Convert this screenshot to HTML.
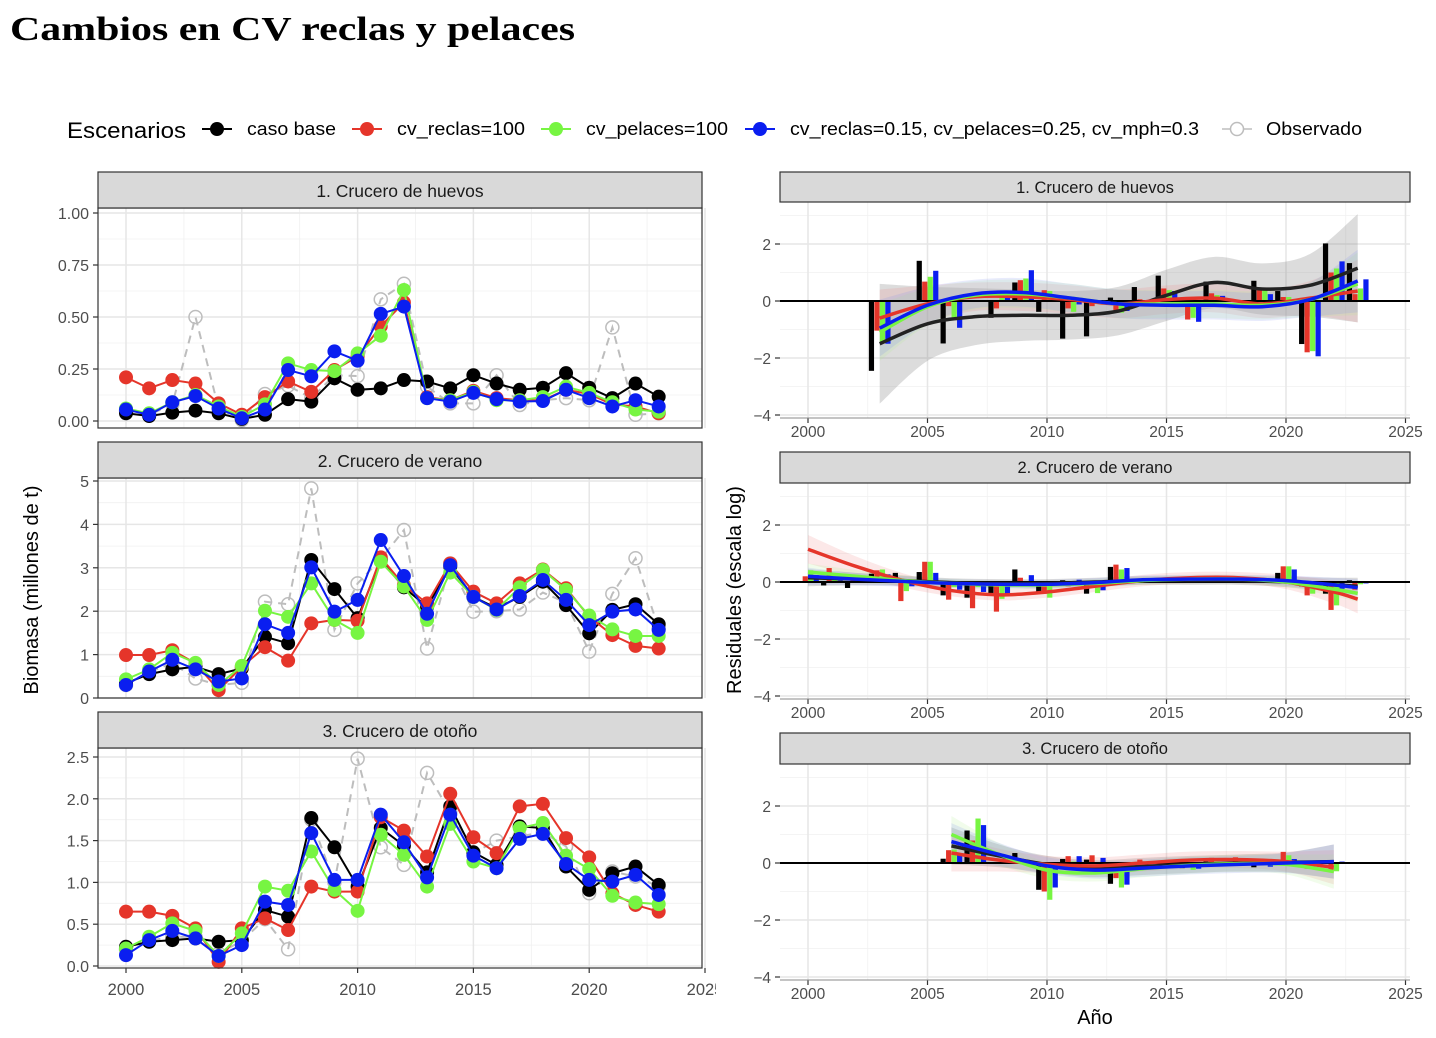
<!DOCTYPE html>
<html><head><meta charset="utf-8"><style>
body{margin:0;background:#fff;}
svg{display:block;font-family:"Liberation Sans",sans-serif;}
</style></head><body>
<svg id="chart" width="1436" height="1038" viewBox="0 0 1436 1038" xmlns="http://www.w3.org/2000/svg">
<rect width="1436" height="1038" fill="#fff"/>
<text x="10" y="40" font-family="Liberation Serif,serif" font-weight="bold" font-size="34" textLength="565" lengthAdjust="spacingAndGlyphs">Cambios en CV reclas y pelaces</text>
<g id="legend"></g>
<g id="left"></g>
<g id="right"></g>
<text transform="translate(38,590) rotate(-90)" text-anchor="middle" font-size="20">Biomasa (millones de t)</text>
<text transform="translate(741,590) rotate(-90)" text-anchor="middle" font-size="20">Residuales (escala log)</text>
<text x="1095" y="1024" text-anchor="middle" font-size="20">Año</text>
</svg>
<script>
const years = [2000,2001,2002,2003,2004,2005,2006,2007,2008,2009,2010,2011,2012,2013,2014,2015,2016,2017,2018,2019,2020,2021,2022,2023];
const seriesNames = ["caso base","cv_reclas=100","cv_pelaces=100","cv_reclas=0.15, cv_pelaces=0.25, cv_mph=0.3"];
const colors = ["#000000","#E5352A","#77F542","#0A1EF0"];
const panelTitles = ["1. Crucero de huevos","2. Crucero de verano","3. Crucero de otoño"];
// Biomass panel 1
const huevosBase = [0.037,0.024,0.04,0.05,0.037,0.01,0.03,0.105,0.093,0.205,0.15,0.157,0.197,0.19,0.157,0.22,0.18,0.15,0.16,0.23,0.16,0.11,0.18,0.117];
const huevosReclas = [0.21,0.157,0.197,0.18,0.085,0.03,0.115,0.19,0.14,0.245,0.31,0.455,0.57,0.115,0.1,0.145,0.11,0.1,0.1,0.15,0.13,0.08,0.07,0.037];
const huevosPelaces = [0.06,0.037,0.09,0.125,0.07,0.02,0.08,0.277,0.245,0.24,0.325,0.41,0.63,0.11,0.1,0.14,0.1,0.1,0.115,0.165,0.135,0.09,0.055,0.045];
const huevosCv = [0.055,0.03,0.09,0.12,0.06,0.013,0.055,0.245,0.215,0.335,0.29,0.515,0.55,0.11,0.093,0.135,0.105,0.093,0.096,0.15,0.11,0.07,0.1,0.07];
const huevosObs = [0.05,0.03,0.08,0.50,0.06,0.005,0.13,0.17,0.11,0.22,0.216,0.585,0.66,0.165,0.085,0.085,0.22,0.077,0.1,0.11,0.1,0.45,0.03,0.037];
// Biomass panel 2
const veranoBase = [0.34,0.55,0.66,0.72,0.55,0.68,1.41,1.26,3.18,2.51,1.84,3.18,2.55,2.1,3.03,2.33,2.07,2.33,2.68,2.14,1.49,2.03,2.16,1.7];
const veranoReclas = [0.99,0.99,1.1,0.8,0.18,0.72,1.17,0.86,1.72,1.8,1.78,3.24,2.6,2.18,3.1,2.45,2.18,2.64,2.96,2.53,1.87,1.45,1.2,1.14];
const veranoPelaces = [0.43,0.66,1.04,0.81,0.3,0.74,2.01,1.87,2.64,1.8,1.5,3.14,2.57,1.8,2.89,2.33,2.03,2.55,2.95,2.49,1.9,1.58,1.43,1.43];
const veranoCv = [0.3,0.61,0.88,0.66,0.38,0.45,1.7,1.5,3.01,1.99,2.26,3.64,2.81,1.94,3.06,2.33,2.04,2.35,2.72,2.26,1.68,1.99,2.04,1.57];
const veranoObs = [0.3,0.6,0.8,0.45,0.3,0.35,2.22,2.16,4.83,1.57,2.64,3.2,3.87,1.14,3.1,1.99,2.0,2.04,2.43,2.2,1.07,2.4,3.22,1.6];
// Biomass panel 3
const otonoBase = [0.23,0.29,0.31,0.33,0.29,0.31,0.67,0.59,1.77,1.42,0.95,1.65,1.44,1.12,1.91,1.36,1.21,1.67,1.65,1.19,0.91,1.11,1.19,0.97];
const otonoReclas = [0.65,0.65,0.6,0.45,0.05,0.45,0.57,0.43,0.95,0.89,0.89,1.78,1.62,1.31,2.06,1.54,1.35,1.91,1.94,1.53,1.3,0.87,0.73,0.65];
const otonoPelaces = [0.21,0.35,0.51,0.42,0.12,0.39,0.95,0.9,1.37,0.91,0.66,1.57,1.33,0.95,1.7,1.25,1.17,1.65,1.71,1.32,1.16,0.84,0.76,0.74];
const otonoCv = [0.13,0.31,0.42,0.33,0.12,0.25,0.77,0.73,1.59,1.03,1.03,1.81,1.48,1.06,1.81,1.32,1.17,1.52,1.58,1.22,1.03,1.01,1.09,0.85];
const otonoObs = [0.2,0.3,0.35,0.35,0.15,0.3,0.56,0.2,1.75,1.0,2.48,1.42,1.21,2.31,1.84,1.35,1.5,1.55,1.6,1.43,0.87,1.13,1.07,0.95];
const leftTicks1 = ["0.00","0.25","0.50","0.75","1.00"];
const leftTicks2 = ["0","1","2","3","4","5"];
const leftTicks3 = ["0.0","0.5","1.0","1.5","2.0","2.5"];
const xTickLabels = ["2000","2005","2010","2015","2020","2025"];
const resTickLabels = ["-4","-2","0","2"];
const n = null;
// Residual bars
const resHuevosBase = [n,n,n,-2.45,n,1.41,-1.49,n,-0.59,0.65,-0.38,-1.32,-1.24,0.12,0.49,0.89,-0.21,0.68,n,0.71,0.35,-1.51,2.02,1.33];
const resHuevosReclas = [n,n,n,-1.04,n,0.68,-0.18,n,-0.26,0.73,0.38,-0.26,-0.18,-0.33,0.06,0.44,-0.65,0.27,n,0.38,0.14,-1.8,1.0,0.24];
const resHuevosPelaces = [n,n,n,-1.47,n,0.85,-0.59,n,0.29,0.79,0.35,-0.38,-0.05,-0.41,0.02,0.38,-0.59,0.21,n,0.38,0.14,-1.76,1.14,0.44];
const resHuevosCv = [n,n,n,-1.5,n,1.06,-0.94,n,0.24,1.08,0.1,-0.12,-0.05,-0.35,-0.12,0.35,-0.73,0.18,n,0.24,-0.02,-1.94,1.39,0.76];
const resVeranoBase = [0.02,-0.12,-0.21,0.29,0.32,0.35,-0.47,-0.55,-0.44,0.44,-0.39,0.06,-0.41,0.53,0.02,0.14,0.12,0.18,0.08,0.0,0.32,-0.15,-0.41,0.06];
const resVeranoReclas = [0.2,0.49,0.2,0.41,-0.67,0.71,-0.62,-0.92,-1.04,0.15,-0.41,-0.15,-0.18,0.61,0.03,0.1,0.12,0.2,0.18,0.08,0.55,-0.47,-0.98,-0.27];
const resVeranoPelaces = [0.41,0.1,0.1,0.44,-0.32,0.71,-0.18,-0.18,-0.59,0.0,-0.55,-0.1,-0.39,0.44,0.02,0.1,0.12,0.1,0.15,0.05,0.55,-0.41,-0.82,-0.08];
const resVeranoCv = [0.24,0.05,0.05,0.27,-0.15,0.32,-0.27,-0.35,-0.47,0.24,-0.1,0.08,-0.29,0.49,0.02,0.1,0.15,0.1,0.1,0.03,0.44,-0.1,-0.24,-0.05];
const resOtonoBase = [n,n,n,n,n,n,0.15,1.14,n,0.35,-0.94,0.14,0.12,-0.73,0.02,0.02,-0.18,0.05,0.03,-0.15,0.02,0.02,0.08,n];
const resOtonoReclas = [n,n,n,n,n,n,0.45,0.79,n,0.03,-1.0,0.24,0.27,-0.53,0.12,0.02,0.02,0.18,0.2,0.03,0.39,-0.2,-0.33,n];
const resOtonoPelaces = [n,n,n,n,n,n,0.47,1.56,n,0.02,-1.29,0.05,0.02,-0.86,0.03,0.02,-0.24,0.05,0.05,0.02,0.27,-0.2,-0.29,n];
const resOtonoCv = [n,n,n,n,n,n,0.32,1.33,n,0.02,-0.86,0.24,0.18,-0.76,0.02,0.02,-0.2,0.03,0.03,-0.13,0.14,-0.05,0.05,n];
// Smooth fits
const smYears1 = [2003,2005,2007,2009,2011,2013,2015,2017,2019,2021,2023];
const smHuevosBase = [-1.5,-0.8,-0.55,-0.5,-0.5,-0.35,0.2,0.65,0.42,0.55,1.15];
const smHuevosReclas = [-0.6,-0.1,0.15,0.15,0.05,-0.1,0.05,0.1,-0.1,0.1,0.35];
const smHuevosPelaces = [-1.1,-0.2,0.2,0.25,0.1,-0.1,-0.1,-0.1,-0.15,0.05,0.6];
const smHuevosCv = [-0.95,-0.15,0.25,0.3,0.1,-0.1,-0.15,-0.15,-0.2,0.05,0.7];
const seHuevosBase = [2.1,1.3,1.0,0.9,0.85,0.85,0.9,0.9,0.9,1.1,1.9];
const seHuevosOther = [1.0,0.65,0.5,0.5,0.5,0.5,0.5,0.5,0.5,0.6,1.1];
const smYears2 = [2000,2002,2004,2006,2008,2010,2012,2014,2016,2018,2020,2022,2023];
const smVeranoBase = [0.15,0.1,0.05,-0.02,-0.05,-0.05,0,0.05,0.05,0.05,0,-0.1,-0.15];
const smVeranoReclas = [1.15,0.55,0.05,-0.3,-0.45,-0.35,-0.15,0.05,0.15,0.15,0.0,-0.35,-0.6];
const smVeranoPelaces = [0.35,0.2,0.05,-0.05,-0.1,-0.1,-0.05,0.05,0.1,0.1,0.0,-0.25,-0.4];
const smVeranoCv = [0.2,0.1,0.02,-0.05,-0.08,-0.08,-0.02,0.08,0.1,0.1,0.05,-0.1,-0.2];
const seVeranoReclas = [0.5,0.35,0.25,0.2,0.2,0.2,0.2,0.2,0.2,0.2,0.25,0.4,0.5];
const seVeranoOther = [0.3,0.22,0.18,0.15,0.15,0.15,0.15,0.15,0.15,0.15,0.18,0.25,0.3];
const smYears3 = [2006,2008,2010,2012,2014,2016,2018,2020,2022];
const smOtonoBase = [0.6,0.25,-0.05,-0.2,-0.12,-0.05,0,0.02,0.05];
const smOtonoReclas = [0.35,0.1,-0.05,-0.1,0,0.1,0.12,0.05,-0.15];
const smOtonoPelaces = [1.0,0.3,-0.25,-0.35,-0.2,-0.08,-0.02,-0.05,-0.3];
const smOtonoCv = [0.75,0.3,-0.1,-0.25,-0.18,-0.1,-0.05,0,0.05];
const seOtono = [0.65,0.4,0.3,0.3,0.3,0.3,0.3,0.35,0.6];

const NS="http://www.w3.org/2000/svg";
function mk(parent,tag,attrs,text){const e=document.createElementNS(NS,tag);for(const k in attrs)e.setAttribute(k,attrs[k]);if(text!==undefined)e.textContent=text;parent.appendChild(e);return e;}

// Legend
const lg=document.getElementById('legend');
let t=mk(lg,'text',{x:67,y:138,'font-size':22,textLength:119,lengthAdjust:'spacingAndGlyphs'},'Escenarios');


const legX=[202,352,541,745];
const legLabelX=[247,397,586,790];
const legLabelW=[89,128,142,409];
for(let i=0;i<4;i++){
  const g=mk(lg,'g',{});
  
  
  mk(g,'line',{x1:legX[i],x2:legX[i]+30,y1:129,y2:129,stroke:colors[i],'stroke-width':2});
  mk(g,'circle',{cx:legX[i]+15,cy:129,r:7,fill:colors[i]});
  mk(g,'text',{x:legLabelX[i],y:135,'font-size':18,textLength:legLabelW[i],lengthAdjust:'spacingAndGlyphs'},seriesNames[i]);
}
{const g=mk(lg,'g',{});


mk(g,'line',{x1:1222,x2:1252,y1:129,y2:129,stroke:'#bdbdbd','stroke-width':1.5});
mk(g,'circle',{cx:1237,cy:129,r:6.5,fill:'#fff',stroke:'#bdbdbd','stroke-width':1.5});
mk(g,'text',{x:1266,y:135,'font-size':18,textLength:96,lengthAdjust:'spacingAndGlyphs'},'Observado');}

// Left panels
const L=document.getElementById('left');
const lx=y=>126+(y-2000)*23.16;
const leftPanels=[
 {top:172,plotTop:208,plotBot:428,y0:421,scale:208,ticks:leftTicks1,tv:[0,0.25,0.5,0.75,1.0],minor:[0.125,0.375,0.625,0.875,1.125],data:[huevosBase,huevosReclas,huevosPelaces,huevosCv],obs:huevosObs},
 {top:442,plotTop:478,plotBot:698,y0:698,scale:43.4,ticks:leftTicks2,tv:[0,1,2,3,4,5],minor:[0.5,1.5,2.5,3.5,4.5],data:[veranoBase,veranoReclas,veranoPelaces,veranoCv],obs:veranoObs},
 {top:712,plotTop:748,plotBot:968,y0:966,scale:83.6,ticks:leftTicks3,tv:[0,0.5,1,1.5,2,2.5],minor:[0.25,0.75,1.25,1.75,2.25],data:[otonoBase,otonoReclas,otonoPelaces,otonoCv],obs:otonoObs}
];
leftPanels.forEach((p,pi)=>{
  const g=mk(L,'g',{});
  
  
  const Y=v=>p.y0-v*p.scale;
  mk(g,'rect',{x:98,y:p.plotTop,width:604,height:p.plotBot-p.plotTop,fill:'#fff'});
  p.minor.forEach(v=>{const yy=Y(v);if(yy>p.plotTop&&yy<p.plotBot)mk(g,'line',{x1:98,x2:702,y1:yy,y2:yy,stroke:'#f0f0f0','stroke-width':0.8});});
  for(let yr=2002.5;yr<2026;yr+=5)mk(g,'line',{x1:lx(yr),x2:lx(yr),y1:p.plotTop,y2:p.plotBot,stroke:'#f0f0f0','stroke-width':0.8});
  p.tv.forEach((v,i)=>{const yy=Y(v);mk(g,'line',{x1:98,x2:702,y1:yy,y2:yy,stroke:'#e6e6e6','stroke-width':1.5});
    mk(g,'line',{x1:93,x2:98,y1:yy,y2:yy,stroke:'#333','stroke-width':1.2});
    const tl=mk(g,'text',{x:89,y:yy+6,'text-anchor':'end','font-size':16,fill:'#4d4d4d'},p.ticks[i]);
    
    });
  for(let yr=2000;yr<=2025;yr+=5)mk(g,'line',{x1:lx(yr),x2:lx(yr),y1:p.plotTop,y2:p.plotBot,stroke:'#e6e6e6','stroke-width':1.5});
  const op=years.map((yr,i)=>lx(yr)+','+Y(p.obs[i])).join(' ');
  const ol=mk(g,'polyline',{points:op,fill:'none',stroke:'#bdbdbd','stroke-width':2,'stroke-dasharray':'8,6'});
  
  
  years.forEach((yr,i)=>{const c=mk(g,'circle',{cx:lx(yr),cy:Y(p.obs[i]),r:6.5,fill:'none',stroke:'#bdbdbd','stroke-width':1.5});
    
    });
  p.data.forEach((d,si)=>{
    const pl=mk(g,'polyline',{points:years.map((yr,i)=>lx(yr)+','+Y(d[i])).join(' '),fill:'none',stroke:colors[si],'stroke-width':2});
    
    
    years.forEach((yr,i)=>{const c=mk(g,'circle',{cx:lx(yr),cy:Y(d[i]),r:7,fill:colors[si]});
      
      });
  });
  mk(g,'rect',{x:98,y:p.plotTop,width:604,height:p.plotBot-p.plotTop,fill:'none',stroke:'#333','stroke-width':1.2});
  const st=mk(g,'rect',{x:98,y:p.top,width:604,height:p.plotTop-p.top,fill:'#d9d9d9',stroke:'#333','stroke-width':1.2});
  
  
  mk(g,'text',{x:400,y:p.top+25,'text-anchor':'middle','font-size':17.5,fill:'#1a1a1a'},panelTitles[pi]);
});
[2000,2005,2010,2015,2020,2025].forEach((yr,i)=>{
  mk(L,'line',{x1:lx(yr),x2:lx(yr),y1:968,y2:973,stroke:'#333','stroke-width':1.2});
  const tl=mk(L,'text',{x:lx(yr),y:995,'text-anchor':'middle','font-size':16.5,fill:'#4d4d4d'},xTickLabels[i]);
  
  
});
mk(L,'rect',{x:716,y:970,width:30,height:40,fill:'#fff'});

// Right panels
const R=document.getElementById('right');
const rx=y=>808+(y-2000)*23.9;
function smoothPath(xs,ys){
  let d='M'+xs[0]+','+ys[0];
  for(let i=0;i<xs.length-1;i++){
    const x0=xs[Math.max(0,i-1)],y0=ys[Math.max(0,i-1)],x1=xs[i],y1=ys[i],x2=xs[i+1],y2=ys[i+1],x3=xs[Math.min(xs.length-1,i+2)],y3=ys[Math.min(xs.length-1,i+2)];
    d+=' C'+(x1+(x2-x0)/6)+','+(y1+(y2-y0)/6)+' '+(x2-(x3-x1)/6)+','+(y2-(y3-y1)/6)+' '+x2+','+y2;
  }
  return d;
}
const rightPanels=[
 {top:172,plotTop:202,plotBot:418,y0:301,bars:[resHuevosBase,resHuevosReclas,resHuevosPelaces,resHuevosCv],smY:smYears1,sm:[smHuevosBase,smHuevosReclas,smHuevosPelaces,smHuevosCv],se:[seHuevosBase,seHuevosOther,seHuevosOther,seHuevosOther]},
 {top:452,plotTop:483,plotBot:699,y0:582,bars:[resVeranoBase,resVeranoReclas,resVeranoPelaces,resVeranoCv],smY:smYears2,sm:[smVeranoBase,smVeranoReclas,smVeranoPelaces,smVeranoCv],se:[seVeranoOther,seVeranoReclas,seVeranoOther,seVeranoOther]},
 {top:733,plotTop:764,plotBot:980,y0:863,bars:[resOtonoBase,resOtonoReclas,resOtonoPelaces,resOtonoCv],smY:smYears3,sm:[smOtonoBase,smOtonoReclas,smOtonoPelaces,smOtonoCv],se:[seOtono,seOtono,seOtono,seOtono]}
];
const bandFill=['#808080','#f08080','#b0f090','#8090f0'];
const bandOp=[0.28,0.18,0.18,0.18];
rightPanels.forEach((p,pi)=>{
  const g=mk(R,'g',{});
  
  
  const Y=v=>p.y0-v*28.5;
  [-3,-1,1,3].forEach(v=>mk(g,'line',{x1:780,x2:1410,y1:Y(v),y2:Y(v),stroke:'#f0f0f0','stroke-width':0.8}));
  for(let yr=2002.5;yr<2026;yr+=5)mk(g,'line',{x1:rx(yr),x2:rx(yr),y1:p.plotTop,y2:p.plotBot,stroke:'#f0f0f0','stroke-width':0.8});
  [-4,-2,0,2].forEach((v,i)=>{mk(g,'line',{x1:780,x2:1410,y1:Y(v),y2:Y(v),stroke:'#e6e6e6','stroke-width':1.5});
    mk(g,'line',{x1:775,x2:780,y1:Y(v),y2:Y(v),stroke:'#333','stroke-width':1.2});
    const tl=mk(g,'text',{x:771,y:Y(v)+6,'text-anchor':'end','font-size':15.5,fill:'#4d4d4d'},resTickLabels[i].replace('-','\u2212'));
    
    });
  for(let yr=2000;yr<=2025;yr+=5){mk(g,'line',{x1:rx(yr),x2:rx(yr),y1:p.plotTop,y2:p.plotBot,stroke:'#e6e6e6','stroke-width':1.5});
    mk(g,'line',{x1:rx(yr),x2:rx(yr),y1:p.plotBot,y2:p.plotBot+5,stroke:'#333','stroke-width':1.2});
    const tl=mk(g,'text',{x:rx(yr),y:p.plotBot+19,'text-anchor':'middle','font-size':15.5,fill:'#4d4d4d'},xTickLabels[(yr-2000)/5]);
    
    }
  p.sm.forEach((s,si)=>{
    const xs=p.smY.map(rx);
    const up=s.map((v,i)=>Y(v+p.se[si][i])), lo=s.map((v,i)=>Y(v-p.se[si][i]));
    const dUp=smoothPath(xs,up);
    const xr=xs.slice().reverse(), lr=lo.slice().reverse();
    const dLo=smoothPath(xr,lr).replace('M',' L');
    const b=mk(g,'path',{d:dUp+dLo+' Z',fill:bandFill[si],'fill-opacity':bandOp[si]});
    
    
  });
  p.bars.forEach((arr,si)=>{
    years.forEach((yr,i)=>{const v=arr[i]; if(v===null)return;
      const cx=rx(yr)+(si-1.5)*5.5;
      const b=mk(g,'rect',{x:cx-2.6,y:Math.min(Y(v),Y(0)),width:5.2,height:Math.abs(Y(v)-Y(0)),fill:colors[si]});
      
      });
  });
  mk(g,'line',{x1:780,x2:1410,y1:Y(0),y2:Y(0),stroke:'#000','stroke-width':2});
  p.sm.forEach((s,si)=>{
    const l=mk(g,'path',{d:smoothPath(p.smY.map(rx),s.map(Y)),fill:'none',stroke:si===0?'#222':colors[si],'stroke-width':3.5});
    
    
  });
  mk(g,'line',{x1:780,x2:1410,y1:p.plotBot,y2:p.plotBot,stroke:'#888','stroke-width':1});
  const st=mk(g,'rect',{x:780,y:p.top,width:630,height:p.plotTop-p.top,fill:'#d9d9d9',stroke:'#333','stroke-width':1.2});
  
  
  mk(g,'text',{x:1095,y:p.top+21,'text-anchor':'middle','font-size':16.5,fill:'#1a1a1a'},panelTitles[pi]);
});
</script>
</body></html>
